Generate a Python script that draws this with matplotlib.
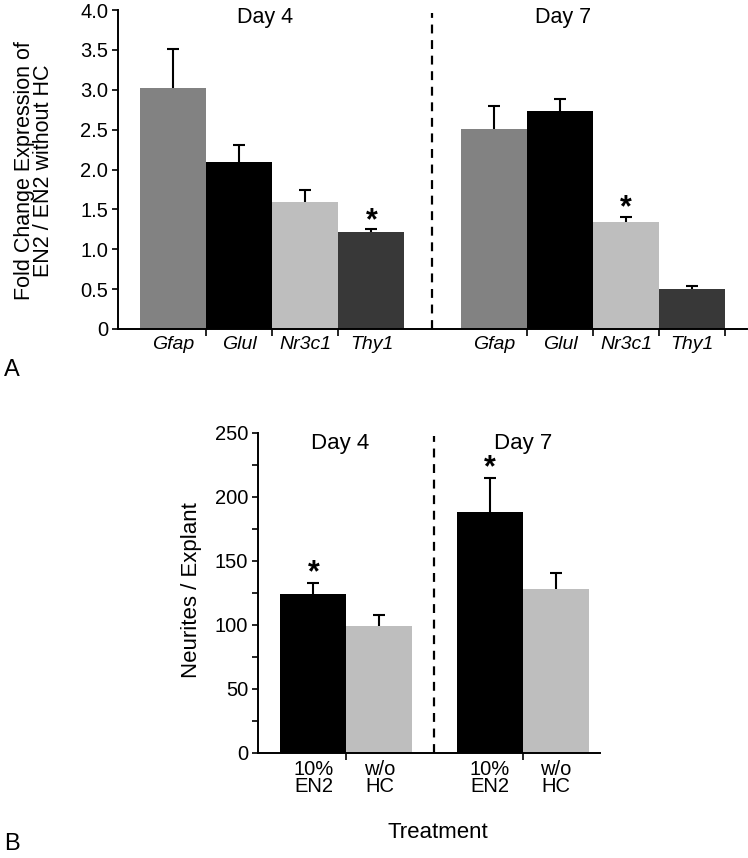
import numpy as np
import matplotlib
matplotlib.use("Agg")
import matplotlib.pyplot as plt

plt.rcParams['font.family'] = ['Liberation Sans', 'DejaVu Sans']

# Panel A data: fold change of EN2 / EN2 without HC
genes = ['Gfap', 'Glul', 'Nr3c1', 'Thy1']
gene_colors = ['#828282', '#000000', '#bebebe', '#383838']
day4_fold = [3.02, 2.09, 1.59, 1.22]
day4_err = [0.49, 0.22, 0.15, 0.03]
day7_fold = [2.51, 2.73, 1.34, 0.50]
day7_err = [0.29, 0.16, 0.07, 0.04]
day4_sig = [False, False, False, True]
day7_sig = [False, False, True, False]
a_yticks = [0, 0.5, 1.0, 1.5, 2.0, 2.5, 3.0, 3.5, 4.0]
a_yticklabels = ['0', '0.5', '1.0', '1.5', '2.0', '2.5', '3.0', '3.5', '4.0']

# Panel B data: neurites per explant
treatments = ['10%\nEN2', 'w/o\nHC']
treat_colors = ['#000000', '#bebebe']
b_day4 = [124, 99]
b_day4_err = [9, 9]
b_day7 = [188, 128]
b_day7_err = [27, 13]
b_day4_sig = [True, False]
b_day7_sig = [True, False]

fig = plt.figure(figsize=(7.48, 8.58), dpi=100)
W, H = 748.0, 858.0


def axes_px(left, top, right, bottom):
    return fig.add_axes([left / W, 1 - bottom / H, (right - left) / W, (bottom - top) / H])


def draw_group(ax, start, vals, errs, sigs, colors, star_off):
    x = start + np.arange(len(vals))
    ax.bar(x, vals, width=1.0, color=colors, edgecolor='none', zorder=2)
    tops = np.array(vals) + np.array(errs)
    ax.vlines(x, vals, tops, color='k', lw=1.5, zorder=3)
    ax.plot(x, tops, ls='none', marker='_', ms=8, mew=1.5, color='k', zorder=3)
    for xi, t, s in zip(x, tops, sigs):
        if s:
            ax.annotate('*', xy=(xi, t), xytext=(0, star_off), textcoords='offset points',
                        ha='center', va='center', fontsize=22, fontweight='bold')
    return x


def style_axes(ax):
    for s in ['top', 'right']:
        ax.spines[s].set_visible(False)
    for s in ['left', 'bottom']:
        ax.spines[s].set_linewidth(1.4)
    ax.tick_params(axis='y', which='both', direction='out', width=1.2, pad=3)
    ax.tick_params(axis='y', which='major', length=4)
    ax.tick_params(axis='x', which='major', length=0, pad=5)
    ax.tick_params(axis='x', which='minor', length=5, width=1.2, direction='out')


# ---- Panel A ----
bw = 66.0
axA = axes_px(118, 10, 747, 329)
xa4 = draw_group(axA, 0.84, day4_fold, day4_err, day4_sig, gene_colors, 6)
xa7 = draw_group(axA, 5.70, day7_fold, day7_err, day7_sig, gene_colors, 6)
axA.set_xlim(0, 629 / bw)
axA.set_ylim(0, 4.0)
axA.set_yticks(a_yticks)
axA.set_yticklabels(a_yticklabels, fontsize=14.5)
axA.set_xticks(np.concatenate([xa4, xa7]))
axA.set_xticklabels(genes + genes, fontsize=14, style='italic')
axA.set_xticks(np.concatenate([xa4[:-1] + 0.5, xa7 + 0.5]), minor=True)
style_axes(axA)
axA.axvline((432 - 118) / bw, ymin=0, ymax=0.99, color='k', lw=1.6, ls=(0, (4, 3)))
axA.text((265 - 118) / bw, 3.9, 'Day 4', ha='center', va='center', fontsize=15.5)
axA.text((563 - 118) / bw, 3.9, 'Day 7', ha='center', va='center', fontsize=15.5)
fig.text(34 / W, 1 - 171 / H, 'Fold Change Expression of\nEN2 / EN2 without HC',
         rotation=90, ha='center', va='center', fontsize=15.5, linespacing=0.85)
fig.text(12 / W, 1 - 370 / H, 'A', ha='center', va='center', fontsize=17)

# ---- Panel B ----
axB = axes_px(258, 433, 600, 753)
xb4 = draw_group(axB, 0.84, b_day4, b_day4_err, b_day4_sig, treat_colors, 7)
xb7 = draw_group(axB, 3.51, b_day7, b_day7_err, b_day7_sig, treat_colors, 7)
axB.set_xlim(0, 342 / bw)
axB.set_ylim(0, 250)
axB.set_yticks(np.arange(0, 251, 50))
axB.set_yticklabels([str(v) for v in range(0, 251, 50)], fontsize=14.5)
axB.set_yticks(np.arange(25, 250, 50), minor=True)
axB.set_xticks(np.concatenate([xb4, xb7]))
axB.set_xticklabels(treatments + treatments, fontsize=14.5, linespacing=0.9)
axB.set_xticks([xb4[0] + 0.5, xb7[0] + 0.5], minor=True)
style_axes(axB)
axB.tick_params(axis='y', which='minor', length=4)
axB.axvline((434 - 258) / bw, ymin=0, ymax=0.99, color='k', lw=1.6, ls=(0, (4, 3)))
axB.text((340 - 258) / bw, 242, 'Day 4', ha='center', va='center', fontsize=16)
axB.text((523 - 258) / bw, 242, 'Day 7', ha='center', va='center', fontsize=16)
fig.text(191 / W, 1 - 590 / H, 'Neurites / Explant', rotation=90,
         ha='center', va='center', fontsize=16)
fig.text(438 / W, 1 - 832 / H, 'Treatment', ha='center', va='center', fontsize=16)
fig.text(12 / W, 1 - 844 / H, 'B', ha='center', va='center', fontsize=17)

fig.savefig('out.png', dpi=100)
